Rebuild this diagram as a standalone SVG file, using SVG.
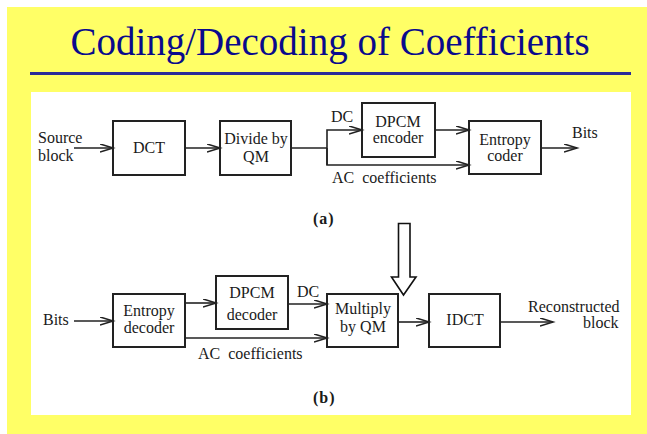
<svg xmlns="http://www.w3.org/2000/svg" width="647" height="434" viewBox="0 0 647 434">
  <style>
    .box { fill: none; stroke: #222; stroke-width: 2; }
    .wire { fill: none; stroke: #222; stroke-width: 1.6; }
    .lbl { font-family: 'Liberation Serif', 'Times New Roman', serif; font-size: 16px; fill: #1a1a1a; }
    .mid { text-anchor: middle; }
    .cap { font-family: 'Liberation Serif', 'Times New Roman', serif; font-size: 16px; font-weight: bold; letter-spacing: 1px; fill: #1a1a1a; }
  </style>
  <defs>
    <marker id="open" markerUnits="userSpaceOnUse" markerWidth="16" markerHeight="10" refX="13" refY="4.5" orient="auto">
      <path d="M0,0.5 L13,4.5 L0,8.5" fill="none" stroke="#222" stroke-width="1.6"/>
    </marker>
  </defs>

  <!-- page background -->
  <rect x="0" y="0" width="647" height="434" fill="#ffffff"/>
  <rect x="7" y="7" width="640" height="427" fill="#ffff66"/>
  <text x="330" y="55" text-anchor="middle" font-family="'Liberation Serif', 'Times New Roman', serif" font-size="39" fill="#0a0a8c">Coding/Decoding of Coefficients</text>
  <rect x="30" y="72" width="601" height="3" fill="#2a2a99"/>
  <rect x="31" y="92" width="600" height="323" fill="#ffffff"/>

  <!-- connectors -->
  <g id="connectors">
    <!-- (a) encoder chain -->
    <line class="wire" x1="74" y1="148" x2="113" y2="148" marker-end="url(#open)"/>
    <line class="wire" x1="185" y1="148" x2="220" y2="148" marker-end="url(#open)"/>
    <polyline class="wire" points="291,148 327,148"/>
    <polyline class="wire" points="327,165 327,130 362,130" marker-end="url(#open)"/>
    <polyline class="wire" points="327,148 327,165 469,165" marker-end="url(#open)"/>
    <line class="wire" x1="435" y1="130" x2="469" y2="130" marker-end="url(#open)"/>
    <line class="wire" x1="541" y1="148" x2="577" y2="148" marker-end="url(#open)"/>
    <!-- (b) decoder chain -->
    <line class="wire" x1="74" y1="321" x2="113" y2="321" marker-end="url(#open)"/>
    <line class="wire" x1="185" y1="303" x2="216" y2="303" marker-end="url(#open)"/>
    <line class="wire" x1="288" y1="304" x2="327" y2="304" marker-end="url(#open)"/>
    <line class="wire" x1="185" y1="338" x2="327" y2="338" marker-end="url(#open)"/>
    <line class="wire" x1="398" y1="322" x2="429" y2="322" marker-end="url(#open)"/>
    <line class="wire" x1="500" y1="322" x2="553" y2="322" marker-end="url(#open)"/>
  </g>

  <!-- (a) nodes -->
  <g id="dct">
    <rect class="box" x="113" y="121" width="72" height="54"/>
    <text class="lbl mid" x="149" y="153">DCT</text>
  </g>
  <g id="divide">
    <rect class="box" x="220" y="121" width="71" height="54"/>
    <text class="lbl mid" x="256" y="144">Divide by</text>
    <text class="lbl mid" x="256" y="161.5">QM</text>
  </g>
  <g id="dpcm-encoder">
    <rect class="box" x="362" y="103" width="73" height="54"/>
    <text class="lbl mid" x="398" y="126.5">DPCM</text>
    <text class="lbl mid" x="398" y="143">encoder</text>
  </g>
  <g id="entropy-coder">
    <rect class="box" x="469" y="121" width="72" height="53"/>
    <text class="lbl mid" x="505" y="145">Entropy</text>
    <text class="lbl mid" x="505" y="161">coder</text>
  </g>
  <g id="labels-a">
    <text class="lbl" x="38" y="143">Source</text>
    <text class="lbl" x="38" y="161">block</text>
    <text class="lbl" x="331" y="121.5">DC</text>
    <text class="lbl" x="332" y="183" word-spacing="4">AC coefficients</text>
    <text class="lbl" x="572" y="138">Bits</text>
    <text class="cap" x="313" y="223.5">(a)</text>
  </g>

  <!-- (b) nodes -->
  <g id="entropy-decoder">
    <rect class="box" x="113" y="294" width="72" height="53"/>
    <text class="lbl mid" x="149" y="316">Entropy</text>
    <text class="lbl mid" x="149" y="332.5">decoder</text>
  </g>
  <g id="dpcm-decoder">
    <rect class="box" x="216" y="276" width="72" height="53"/>
    <text class="lbl mid" x="252" y="298">DPCM</text>
    <text class="lbl mid" x="252" y="320">decoder</text>
  </g>
  <g id="multiply">
    <rect class="box" x="327" y="294" width="71" height="53"/>
    <text class="lbl mid" x="363" y="314">Multiply</text>
    <text class="lbl mid" x="363" y="331.5">by QM</text>
  </g>
  <g id="idct">
    <rect class="box" x="429" y="294" width="71" height="53"/>
    <text class="lbl mid" x="465" y="325">IDCT</text>
  </g>
  <g id="labels-b">
    <text class="lbl" x="43" y="325">Bits</text>
    <text class="lbl" x="297" y="297">DC</text>
    <text class="lbl" x="198" y="359" word-spacing="4">AC coefficients</text>
    <text class="lbl" x="528" y="311.5">Reconstructed</text>
    <text class="lbl" x="583" y="328">block</text>
    <text class="cap" x="313" y="403">(b)</text>
  </g>

  <!-- hollow pointer -->
  <g id="pointer">
    <path d="M398.5,223.5 L410,223.5 L410,277 L416,277 L403.5,295 L391.5,277 L398.5,277 Z" fill="#ffffff" stroke="#111" stroke-width="1.6" stroke-linejoin="miter"/>
  </g>
</svg>
